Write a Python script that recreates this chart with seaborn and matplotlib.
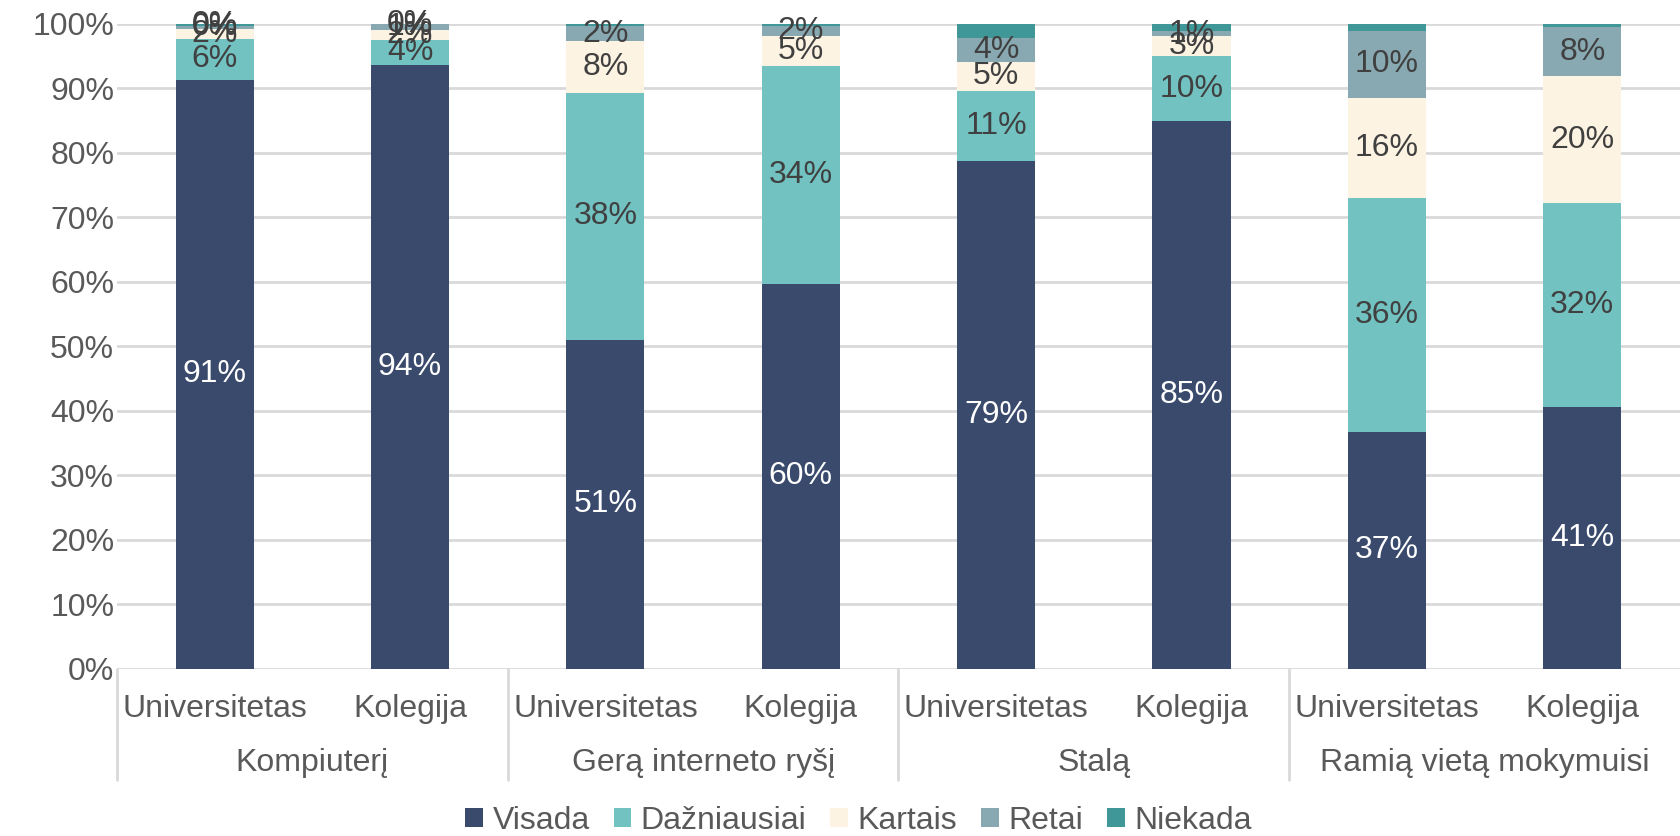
import numpy as np
import pandas as pd
import matplotlib
matplotlib.use("Agg")
import matplotlib.pyplot as plt
from matplotlib.patches import Patch
import seaborn as sns

groups = ["Kompiuterį", "Gerą interneto ryšį", "Stalą", "Ramią vietą mokymuisi"]
schools = ["Universitetas", "Kolegija"]
answers = ["Visada", "Dažniausiai", "Kartais", "Retai", "Niekada"]

visada = [91.3, 93.6, 51.0, 59.6, 78.7, 84.9, 36.7, 40.6]
dazniausiai = [6.3, 3.9, 38.2, 33.8, 10.8, 10.0, 36.2, 31.6]
kartais = [1.6, 1.5, 8.1, 4.6, 4.6, 3.1, 15.6, 19.6]
retai = [0.4, 0.9, 2.3, 1.6, 3.7, 0.9, 10.4, 7.7]
niekada = [0.4, 0.1, 0.4, 0.4, 2.2, 1.1, 1.1, 0.5]

# which segments carry a data label (the chart hides some of them)
show_label = {
    "Visada": [1, 1, 1, 1, 1, 1, 1, 1],
    "Dažniausiai": [1, 1, 1, 1, 1, 1, 1, 1],
    "Kartais": [1, 1, 1, 1, 1, 1, 1, 1],
    "Retai": [1, 1, 1, 1, 1, 1, 1, 1],
    "Niekada": [1, 1, 0, 0, 0, 0, 0, 0],
}

colors = {
    "Visada": "#394a6d",
    "Dažniausiai": "#72c2c2",
    "Kartais": "#fdf3e3",
    "Retai": "#88a9b1",
    "Niekada": "#3f9797",
}

values = {"Visada": visada, "Dažniausiai": dazniausiai, "Kartais": kartais,
          "Retai": retai, "Niekada": niekada}

rows = []
for gi, g in enumerate(groups):
    for si, s in enumerate(schools):
        i = gi * 2 + si
        for a in answers:
            rows.append({"pos": i, "group": g, "school": s, "answer": a, "value": values[a][i]})
df = pd.DataFrame(rows)
df["cum"] = df.groupby("pos")["value"].cumsum()
df["start"] = df["cum"] - df["value"]

sns.set_theme(style="white")
plt.rcParams["font.family"] = ["Liberation Sans", "DejaVu Sans"]
FS = 23
GRAY = "#595959"

fig = plt.figure(figsize=(16.8, 8.36), dpi=100)
ax = fig.add_axes([0.0696, 0.2002, 0.9304, 0.7716])

# stacked bars: draw cumulative totals from top layer down
for a in reversed(answers):
    sub = df[df["answer"] == a]
    sns.barplot(data=sub, x="pos", y="cum", color=colors[a], width=0.4,
                saturation=1, ax=ax, linewidth=0, errorbar=None, zorder=3)

for _, r in df.iterrows():
    if not show_label[r["answer"]][r["pos"]]:
        continue
    c = "white" if r["answer"] == "Visada" else "#404040"
    ax.text(r["pos"], r["start"] + r["value"] / 2, f"{int(r['value'] + 0.5)}%",
            ha="center", va="center", fontsize=FS, color=c, zorder=5)

ax.set_xlim(-0.5, 7.5)
ax.set_ylim(0, 100)
ax.set_yticks(np.arange(0, 101, 10))
ax.set_yticklabels([f"{t}%" for t in range(0, 101, 10)], fontsize=FS, color=GRAY)
ax.yaxis.grid(True, color="#d9d9d9", linewidth=2, zorder=0)
ax.set_axisbelow(True)
for sp in ax.spines.values():
    sp.set_visible(False)
ax.tick_params(axis="y", length=0, pad=2)
ax.set_xlabel("")
ax.set_ylabel("")
ax.set_xticks(range(8))
ax.set_xticklabels([schools[i % 2] for i in range(8)], fontsize=FS, color=GRAY)
ax.tick_params(axis="x", length=0, pad=18)

# group labels and separators below the axis
trans = ax.get_xaxis_transform()
for gi, g in enumerate(groups):
    ax.text(gi * 2 + 0.5, -0.147, g, transform=trans, ha="center", va="center",
            fontsize=FS, color=GRAY, clip_on=False)
for xb in [-0.5, 1.5, 3.5, 5.5]:
    ax.plot([xb, xb], [0, -0.172], transform=trans, color="#d9d9d9", lw=2,
            clip_on=False)

handles = [Patch(facecolor=colors[a], edgecolor="none", label=a) for a in answers]
fig.legend(handles=handles, loc="center", bbox_to_anchor=(0.511, 0.018), ncol=5,
           frameon=False, fontsize=FS, handlelength=0.55, handleheight=0.55,
           handletextpad=0.3, columnspacing=0.75, labelcolor=GRAY)

fig.savefig("out.png", dpi=100)
